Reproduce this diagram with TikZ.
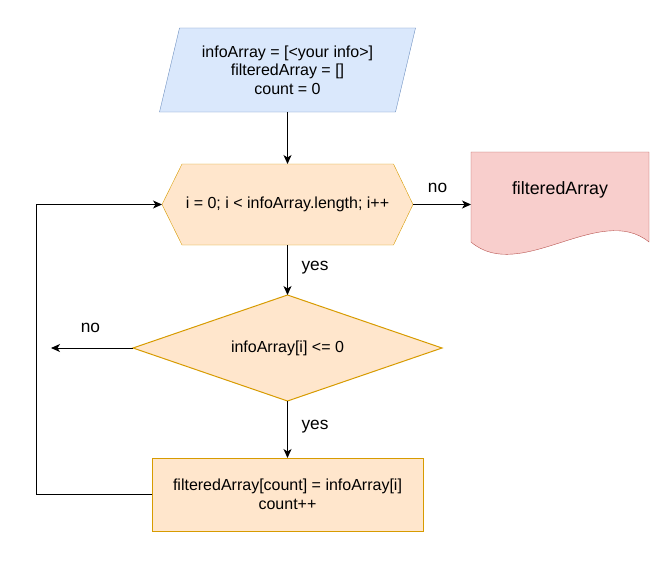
\documentclass[tikz,border=0pt]{standalone}
\usepackage{fontspec}
\setmainfont{Liberation Sans}
\usetikzlibrary{shapes.geometric,arrows.meta,backgrounds}
\definecolor{bluefill}{HTML}{DAE8FC}
\definecolor{bluedraw}{HTML}{6C8EBF}
\definecolor{orfill}{HTML}{FFE6CC}
\definecolor{ordraw}{HTML}{D79B00}
\definecolor{redfill}{HTML}{F8CECC}
\definecolor{reddraw}{HTML}{B85450}
\begin{document}
\begin{tikzpicture}[x=1pt,y=-1pt,line width=1pt,
  txt/.style={font=\fontsize{16}{18.7}\selectfont,align=center,inner sep=0pt,outer sep=0pt},
  lbl/.style={font=\fontsize{17.3}{20}\selectfont,inner sep=0pt},
  arr/.style={-{Stealth[length=9pt,width=8pt,inset=2.5pt]},line width=1pt,draw=black},
  orangebox/.style={draw=ordraw,fill=orfill}]
\useasboundingbox (0,0) rectangle (668,578);

% nodes
\node[txt,minimum width=257pt,minimum height=84pt] (init) at (287.5,70)
  {infoArray = [<your info>]\\filteredArray = []\\count = 0};
\node[txt,minimum width=251pt,minimum height=81pt] (loop) at (287.5,204.5)
  {i = 0; i < infoArray.length; i++};
\node[txt,diamond,aspect=2.9,orangebox,minimum width=309pt,minimum height=106pt] (cond) at (287.5,348)
  {infoArray[i] <= 0};
\node[txt,orangebox,minimum width=271pt,minimum height=73pt] (body) at (287.5,494.5)
  {filteredArray[count] = infoArray[i]\\count++};
\node[txt,font=\fontsize{17.8}{20}\selectfont,minimum width=178pt,minimum height=76pt] (out) at (560,190)
  {filteredArray};

% shapes drawn behind
\begin{scope}[on background layer]
\draw[draw=bluedraw,fill=bluefill] (179.5,28) -- (415.5,28) -- (395.5,112) -- (159.5,112) -- cycle;
\draw[orangebox] (182,164) -- (393.5,164) -- (413,204.5) -- (393.5,245) -- (182,245) -- (162,204.5) -- cycle;
\draw[draw=reddraw,fill=redfill] (471,152) -- (649,152) -- (649,242)
  .. controls (600,202) and (520,284) .. (471,242) -- cycle;
\end{scope}

% connectors
\coordinate (noend) at (51,348);
\draw[arr] (init.south) -- (loop.north);
\draw[arr] (loop.east) -- (loop.east -| out.west);
\draw[arr] (loop.south) -- (cond.north);
\draw[arr] (cond.west) -- (noend);
\draw[arr] (cond.south) -- (body.north);
\draw[arr] (body.west) -- ++(-116,0) |- (loop.west);

% labels
\node[lbl] (lno1) at (437.5,188) {no};
\node[lbl] (lyes1) at (315,268) {yes};
\node[lbl] (lno2) at (90.5,328) {no};
\node[lbl] (lyes2) at (315,427) {yes};
\end{tikzpicture}
\end{document}
